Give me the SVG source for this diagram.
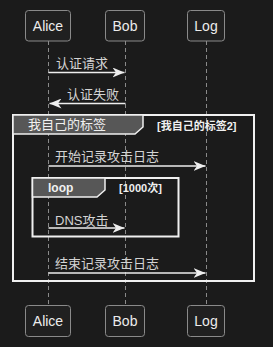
<svg xmlns="http://www.w3.org/2000/svg" width="273" height="347" viewBox="0 0 273 347">
<style>
text{font-family:"Liberation Sans","Noto Sans CJK SC",sans-serif;}
.actor rect{fill:#202020;stroke:#8a8a8a;stroke-width:1;}
.actor text{fill:#ececec;font-size:14px;text-anchor:middle;}
.life{stroke:#8a8a8a;stroke-width:1;stroke-dasharray:4 3;fill:none;}
.msg{stroke:#eeeeee;stroke-width:1.3;fill:none;marker-end:url(#ah);}
.mtxt{fill:#d4d4d4;font-size:13px;}
.frame{fill:none;stroke:#f0f0f0;stroke-width:2;}
.tab{fill:#575757;stroke:#f0f0f0;stroke-width:1.5;}
.ttl{fill:#f0f0f0;font-size:13px;}
.loopttl{fill:#f0f0f0;font-size:12px;font-weight:bold;}
.cond{fill:#f0f0f0;font-size:11px;font-weight:bold;}
</style>
<defs>
<marker id="ah" viewBox="0 0 12 10" refX="12" refY="5" markerWidth="12" markerHeight="10" markerUnits="userSpaceOnUse" orient="auto">
<path d="M0,0 L12,5 L0,10 L3.5,5 z" fill="#eeeeee"/>
</marker>
</defs>
<rect width="273" height="347" fill="#1b1b1b"/>
<g id="lifelines">
<line class="life" x1="48.5" y1="41" x2="48.5" y2="306"/>
<line class="life" x1="125.5" y1="41" x2="125.5" y2="306"/>
<line class="life" x1="206.5" y1="41" x2="206.5" y2="306"/>
</g>
<g id="alice-top" class="actor"><rect x="25.5" y="10.5" width="45" height="30.5" rx="3"/><text x="48" y="31">Alice</text></g>
<g id="bob-top" class="actor"><rect x="105.5" y="10.5" width="39" height="30.5" rx="3"/><text x="125" y="31">Bob</text></g>
<g id="log-top" class="actor"><rect x="187.5" y="10.5" width="37" height="30.5" rx="3"/><text x="206" y="31">Log</text></g>
<g id="alice-bottom" class="actor"><rect x="25.5" y="305.5" width="45" height="31" rx="3"/><text x="48" y="326">Alice</text></g>
<g id="bob-bottom" class="actor"><rect x="105.5" y="305.5" width="39" height="31" rx="3"/><text x="125" y="326">Bob</text></g>
<g id="log-bottom" class="actor"><rect x="187.5" y="305.5" width="37" height="31" rx="3"/><text x="206" y="326">Log</text></g>
<g id="frame-outer">
<rect class="frame" x="13" y="115" width="241" height="166"/>
<path class="tab" d="M13,115 H143 V127 L135,134 H13 Z"/>
<text class="ttl" x="28" y="129">我自己的标签</text>
<text class="cond" x="157" y="130">[我自己的标签2]</text>
</g>
<g id="frame-loop">
<rect class="frame" x="32.5" y="178" width="146" height="58.5"/>
<path class="tab" d="M32.5,178 H105 V190 L97,197 H32.5 Z"/>
<text class="loopttl" x="48" y="192">loop</text>
<text class="cond" x="119" y="192">[1000次]</text>
</g>
<g id="connectors">
<line class="msg" x1="48.5" y1="72.5" x2="124.5" y2="72.5"/>
<text class="mtxt" x="56" y="67.5">认证请求</text>
<line class="msg" x1="125.5" y1="103.5" x2="49.5" y2="103.5"/>
<text class="mtxt" x="67" y="98.5">认证失败</text>
<line class="msg" x1="48.5" y1="166" x2="205.5" y2="166"/>
<text class="mtxt" x="55" y="161">开始记录攻击日志</text>
<line class="msg" x1="48.5" y1="228" x2="124.5" y2="228"/>
<text class="mtxt" x="55" y="225">DNS攻击</text>
<line class="msg" x1="48.5" y1="273" x2="205.5" y2="273"/>
<text class="mtxt" x="55" y="268">结束记录攻击日志</text>
</g>
</svg>
